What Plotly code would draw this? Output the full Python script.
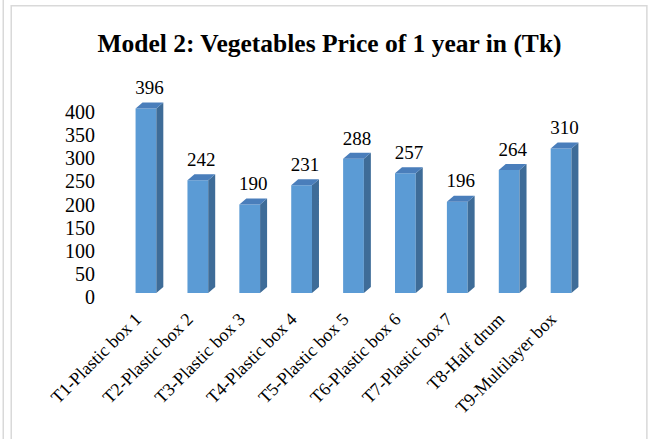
import plotly.graph_objects as go

categories = ["T1-Plastic box 1", "T2-Plastic box 2", "T3-Plastic box 3", "T4-Plastic box 4",
              "T5-Plastic box 5", "T6-Plastic box 6", "T7-Plastic box 7", "T8-Half drum",
              "T9-Multilayer box"]
prices = [396, 242, 190, 231, 288, 257, 196, 264, 310]
y_ticks = [0, 50, 100, 150, 200, 250, 300, 350, 400]
title_text = "Model 2: Vegetables Price of 1 year in (Tk)"

W, H = 651, 439
# pixel geometry
PL, PR, PT = 119.5, 587.5, 59.7
PB = 292.7          # baseline (value 0) of the bar fronts
PBp = PB + 11       # bottom of plot area
YMAX = 500.0
bar_w = 0.40
px_per_cat = (PR - PL) / len(categories)
px_per_unit = (PB - PT) / YMAX
ymin = -(PBp - PB) / px_per_unit
dx = 7 / px_per_cat
dy = 6 / px_per_unit
label_gap = 3.5 / px_per_unit

# tick label axis: 0 at PB+4 px, 400 at 111.7 px
k = (PB + 4 - 111.7) / 400.0
y2_lo = -(PBp - (PB + 4)) / k
y2_hi = (PB + 4 - PT) / k

FRONT = "#5B9BD5"
SIDE = "#3E6C98"
TOP = "#4A7EBB"
FONT = "Liberation Serif, Times New Roman, serif"

xs = list(range(len(categories)))

side_x, side_y, top_x, top_y = [], [], [], []
for i, v in zip(xs, prices):
    r = i + bar_w / 2
    l = i - bar_w / 2
    side_x += [r, r + dx, r + dx, r, r, None]
    side_y += [0, dy, v + dy, v, 0, None]
    top_x += [l, l + dx, r + dx, r, l, None]
    top_y += [v, v + dy, v + dy, v, v, None]

fig = go.Figure()
fig.add_trace(go.Bar(x=xs, y=prices, base=0, width=bar_w, marker=dict(color=FRONT, line=dict(width=0)),
                     hoverinfo="skip", showlegend=False))
fig.add_trace(go.Scatter(x=side_x, y=side_y, fill="toself", fillcolor=SIDE, mode="lines",
                         line=dict(width=0, color=SIDE), hoverinfo="skip", showlegend=False))
fig.add_trace(go.Scatter(x=top_x, y=top_y, fill="toself", fillcolor=TOP, mode="lines",
                         line=dict(width=0, color=TOP), hoverinfo="skip", showlegend=False))
fig.add_trace(go.Scatter(x=[i + dx / 2 for i in xs], y=[v + dy + label_gap for v in prices], mode="text",
                         text=[str(v) for v in prices], textposition="top center",
                         textfont=dict(family=FONT, size=19, color="#000000"),
                         hoverinfo="skip", showlegend=False))
fig.add_trace(go.Scatter(x=[xs[0]], y=[0], yaxis="y2", mode="markers",
                         marker=dict(opacity=0), hoverinfo="skip", showlegend=False))


def px_x(p):
    return (p - PL) / (PR - PL)


def px_y(p):
    return (PBp - p) / (PBp - PT)


shapes = [
    dict(type="rect", xref="paper", yref="paper", x0=px_x(10.5), x1=px_x(647.5),
         y0=px_y(470), y1=px_y(5.5), line=dict(color="#D9D9D9", width=1.5),
         fillcolor="rgba(0,0,0,0)", layer="below"),
    dict(type="line", xref="paper", yref="paper", x0=px_x(2.5), x1=px_x(2.5),
         y0=px_y(470), y1=px_y(-10), line=dict(color="#D9D9D9", width=1.5), layer="below"),
]

fig.update_layout(
    width=W, height=H,
    margin=dict(l=PL, r=W - PR, t=PT, b=H - PBp, pad=0, autoexpand=False),
    paper_bgcolor="white", plot_bgcolor="rgba(0,0,0,0)",
    title=dict(text="<b>" + title_text + "</b>", x=329.5 / W, xanchor="center",
               y=1 - 43 / H, yanchor="middle", yref="container", automargin=False,
               font=dict(family=FONT, size=25.5, color="#000000")),
    xaxis=dict(range=[-0.5, len(categories) - 0.5], tickmode="array", tickvals=xs,
               ticktext=categories, tickangle=-45, showgrid=False, zeroline=False,
               showline=False, ticks="", ticklabelstandoff=0, ticklabelshift=-10,
               automargin=False,
               tickfont=dict(family=FONT, size=18, color="#000000")),
    yaxis=dict(range=[ymin, YMAX], showgrid=False, zeroline=False, showline=False,
               showticklabels=False, ticks="", automargin=False),
    yaxis2=dict(range=[y2_lo, y2_hi], overlaying="y", side="left",
                tickmode="array", tickvals=y_ticks, showgrid=False, zeroline=False,
                showline=False, ticks="", ticklabelstandoff=24, automargin=False,
                tickfont=dict(family=FONT, size=20, color="#000000")),
    shapes=shapes,
    bargap=0.6,
)

fig.write_html("out.html", config={"displayModeBar": False},
               post_script="document.body.style.margin='0';document.body.style.padding='0';")
